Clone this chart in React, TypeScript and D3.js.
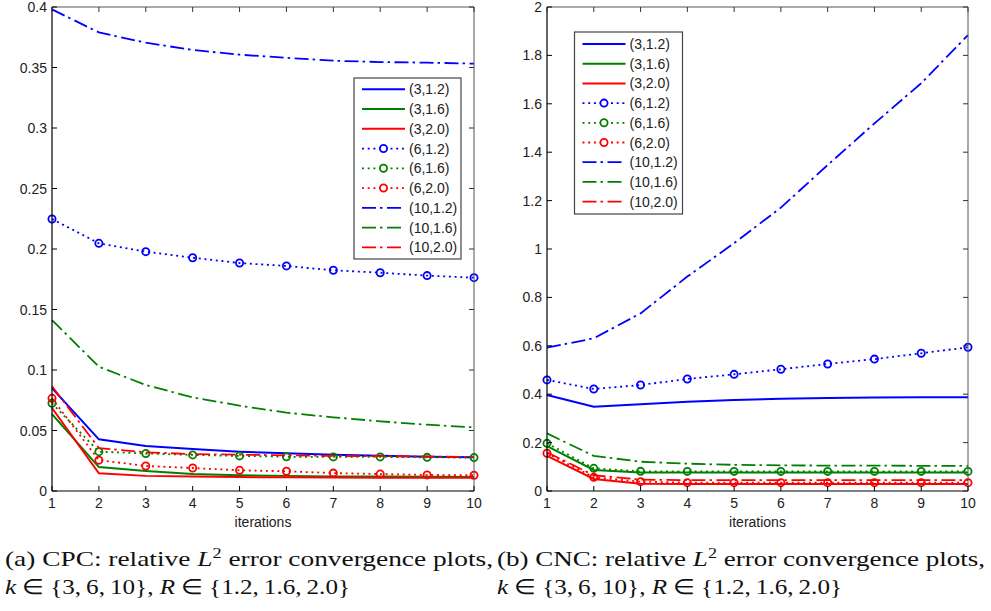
import React from 'react';
import * as d3 from 'd3';

// ---- data ----
const iterations = [1, 2, 3, 4, 5, 6, 7, 8, 9, 10];

const legendLabels = ['(3,1.2)', '(3,1.6)', '(3,2.0)', '(6,1.2)', '(6,1.6)', '(6,2.0)', '(10,1.2)', '(10,1.6)', '(10,2.0)'];
const seriesColors = ['#0000ff', '#008000', '#ff0000', '#0000ff', '#008000', '#ff0000', '#0000ff', '#008000', '#ff0000'];
const seriesStyles = ['solid', 'solid', 'solid', 'dot', 'dot', 'dot', 'dashdot', 'dashdot', 'dashdot'];

// (a) CPC
const cpcK3R12 = [0.085, 0.0427, 0.0372, 0.0347, 0.0325, 0.0311, 0.030, 0.0292, 0.0284, 0.0278];
const cpcK3R16 = [0.0636, 0.0198, 0.0165, 0.014, 0.013, 0.0125, 0.012, 0.012, 0.0118, 0.0115];
const cpcK3R20 = [0.0686, 0.0147, 0.0125, 0.012, 0.0115, 0.0113, 0.0112, 0.011, 0.011, 0.011];
const cpcK6R12 = [0.2248, 0.2047, 0.1978, 0.1928, 0.1884, 0.186, 0.1824, 0.1804, 0.178, 0.1763];
const cpcK6R16 = [0.0725, 0.0325, 0.031, 0.0298, 0.029, 0.0283, 0.0282, 0.0282, 0.0278, 0.0276];
const cpcK6R20 = [0.0766, 0.0255, 0.0207, 0.019, 0.0171, 0.0163, 0.0148, 0.014, 0.0133, 0.013];
const cpcK10R12 = [0.398, 0.379, 0.3705, 0.3645, 0.3606, 0.358, 0.3556, 0.3545, 0.354, 0.3532];
const cpcK10R16 = [0.1413, 0.1027, 0.0876, 0.0774, 0.0705, 0.0647, 0.0609, 0.0576, 0.0548, 0.0526];
const cpcK10R20 = [0.0866, 0.0355, 0.032, 0.0305, 0.030, 0.0295, 0.029, 0.0288, 0.0285, 0.028];

// (b) CNC
const cncK3R12 = [0.397, 0.348, 0.358, 0.369, 0.376, 0.381, 0.384, 0.386, 0.387, 0.387];
const cncK3R16 = [0.185, 0.087, 0.076, 0.076, 0.076, 0.076, 0.076, 0.076, 0.076, 0.076];
const cncK3R20 = [0.145, 0.05, 0.03, 0.029, 0.029, 0.029, 0.029, 0.029, 0.029, 0.029];
const cncK6R12 = [0.459, 0.4215, 0.438, 0.463, 0.482, 0.503, 0.525, 0.545, 0.569, 0.594];
const cncK6R16 = [0.197, 0.0937, 0.0813, 0.081, 0.081, 0.081, 0.081, 0.081, 0.081, 0.081];
const cncK6R20 = [0.156, 0.0565, 0.0386, 0.0344, 0.0344, 0.0344, 0.0344, 0.0344, 0.0344, 0.0344];
const cncK10R12 = [0.592, 0.631, 0.734, 0.886, 1.024, 1.171, 1.347, 1.519, 1.685, 1.884];
const cncK10R16 = [0.238, 0.145, 0.121, 0.113, 0.108, 0.106, 0.105, 0.105, 0.104, 0.104];
const cncK10R20 = [0.16, 0.065, 0.047, 0.045, 0.045, 0.045, 0.045, 0.045, 0.045, 0.045];

const cpcSeries = [cpcK3R12, cpcK3R16, cpcK3R20, cpcK6R12, cpcK6R16, cpcK6R20, cpcK10R12, cpcK10R16, cpcK10R20];
const cncSeries = [cncK3R12, cncK3R16, cncK3R20, cncK6R12, cncK6R16, cncK6R20, cncK10R12, cncK10R16, cncK10R20];

const cpcYTicks = [0, 0.05, 0.1, 0.15, 0.2, 0.25, 0.3, 0.35, 0.4];
const cpcYLabels = ['0', '0.05', '0.1', '0.15', '0.2', '0.25', '0.3', '0.35', '0.4'];
const cncYTicks = [0, 0.2, 0.4, 0.6, 0.8, 1, 1.2, 1.4, 1.6, 1.8, 2];
const cncYLabels = ['0', '0.2', '0.4', '0.6', '0.8', '1', '1.2', '1.4', '1.6', '1.8', '2'];
const xLabel = 'iterations';

const AXIS_FONT = '"Liberation Sans", Arial, sans-serif';
const CAPTION_FONT = '"Liberation Serif", serif';

const dashOf = (style: string) =>
  style === 'dot' ? '2,3.7' : style === 'dashdot' ? '14,4,2.5,4.5' : undefined;

type PanelProps = {
  left: number; right: number; top: number; bottom: number;
  yMax: number; yTicks: number[]; yLabels: string[];
  series: number[][];
  legend: { x: number; y: number; w: number; h: number; row0: number; step: number };
};

function Panel({ left, right, top, bottom, yMax, yTicks, yLabels, series, legend }: PanelProps) {
  const x = d3.scaleLinear().domain([1, 10]).range([left, right]);
  const y = d3.scaleLinear().domain([0, yMax]).range([bottom, top]);
  const line = d3.line<number>().x((_, i) => x(iterations[i])).y(d => y(d));
  const tick = 5;
  const fs = 14;

  return (
    <g>
      <rect x={left} y={top} width={right - left} height={bottom - top} fill="#fff" />
      {/* series, drawn in legend order */}
      {series.map((s, i) => (
        <g key={i}>
          <path d={line(s) || ''} fill="none" stroke={seriesColors[i]} strokeWidth={seriesStyles[i] === 'solid' ? 2 : 1.8}
            strokeDasharray={dashOf(seriesStyles[i])} />
          {seriesStyles[i] === 'dot' && s.map((v, j) => (
            <circle key={j} cx={x(iterations[j])} cy={y(v)} r={3.6} fill="none" stroke={seriesColors[i]} strokeWidth={1.8} />
          ))}
        </g>
      ))}
      {/* box */}
      <line x1={left} x2={right} y1={top} y2={top} stroke="#555" strokeWidth={1} />
      <line x1={right} x2={right} y1={top} y2={bottom} stroke="#555" strokeWidth={1} />
      <line x1={left} x2={left} y1={top} y2={bottom} stroke="#000" strokeWidth={1.2} />
      <line x1={left} x2={right} y1={bottom} y2={bottom} stroke="#000" strokeWidth={1.2} />
      {/* y ticks */}
      {yTicks.map((t, i) => (
        <g key={'y' + i}>
          <line x1={left} x2={left + tick} y1={y(t)} y2={y(t)} stroke="#000" />
          <line x1={right} x2={right - tick} y1={y(t)} y2={y(t)} stroke="#333" />
          <text x={left - 5} y={y(t)} dy="0.36em" textAnchor="end" fontFamily={AXIS_FONT} fontSize={fs} fill="#222">{yLabels[i]}</text>
        </g>
      ))}
      {/* x ticks */}
      {iterations.map((t) => (
        <g key={'x' + t}>
          <line x1={x(t)} x2={x(t)} y1={bottom} y2={bottom - tick} stroke="#000" />
          <line x1={x(t)} x2={x(t)} y1={top} y2={top + tick} stroke="#333" />
          <text x={x(t)} y={508} textAnchor="middle" fontFamily={AXIS_FONT} fontSize={fs} fill="#222">{t}</text>
        </g>
      ))}
      <text x={(left + right) / 2} y={527} textAnchor="middle" fontFamily={AXIS_FONT} fontSize={fs} fill="#222">{xLabel}</text>
      {/* legend */}
      <rect x={legend.x} y={legend.y} width={legend.w} height={legend.h} fill="#fff" stroke="#444" strokeWidth={1.2} />
      {legendLabels.map((lab, i) => {
        const cy = legend.row0 + i * legend.step;
        const lx1 = legend.x + 8;
        const lx2 = legend.x + 51;
        return (
          <g key={'l' + i}>
            <line x1={lx1} x2={lx2} y1={cy} y2={cy} stroke={seriesColors[i]} strokeWidth={seriesStyles[i] === 'solid' ? 2 : 1.8}
              strokeDasharray={dashOf(seriesStyles[i])} />
            {seriesStyles[i] === 'dot' && (
              <circle cx={(lx1 + lx2) / 2} cy={cy} r={3.6} fill="#fff" stroke={seriesColors[i]} strokeWidth={1.8} />
            )}
            <text x={legend.x + 55} y={cy} dy="0.36em" fontFamily={AXIS_FONT} fontSize={fs} fill="#222">{lab}</text>
          </g>
        );
      })}
    </g>
  );
}

function Caption({ x, tag, name }: { x: number; tag: string; name: string }) {
  return (
    <g fontFamily={CAPTION_FONT} fontSize={21} fill="#111">
      <text x={x} y={566} textLength={488} lengthAdjust="spacingAndGlyphs">
        {`(${tag}) ${name}: relative `}
        <tspan fontStyle="italic">L</tspan>
        <tspan fontSize={14} dy={-8}>2</tspan>
        <tspan dy={8}>{' error convergence plots,'}</tspan>
      </text>
      <text x={x} y={594} textLength={345} lengthAdjust="spacingAndGlyphs">
        <tspan fontStyle="italic">k</tspan>
        {' ∈ {3,\u20096,\u200910}, '}
        <tspan fontStyle="italic">R</tspan>
        {' ∈ {1.2,\u20091.6,\u20092.0}'}
      </text>
    </g>
  );
}

export default function App() {
  return (
    <svg width={991} height={611} style={{ position: 'absolute', left: 0, top: 0, background: '#fff' }}>
      <rect width={991} height={611} fill="#fff" />
      <Panel left={52} right={474} top={7} bottom={491} yMax={0.4} yTicks={cpcYTicks} yLabels={cpcYLabels}
        series={cpcSeries} legend={{ x: 354, y: 78, w: 107, h: 181, row0: 89.3, step: 19.75 }} />
      <Panel left={547} right={968} top={7} bottom={491} yMax={2} yTicks={cncYTicks} yLabels={cncYLabels}
        series={cncSeries} legend={{ x: 574.5, y: 32, w: 108, h: 182, row0: 44, step: 19.7 }} />
      <Caption x={5} tag="a" name="CPC" />
      <Caption x={497} tag="b" name="CNC" />
    </svg>
  );
}
